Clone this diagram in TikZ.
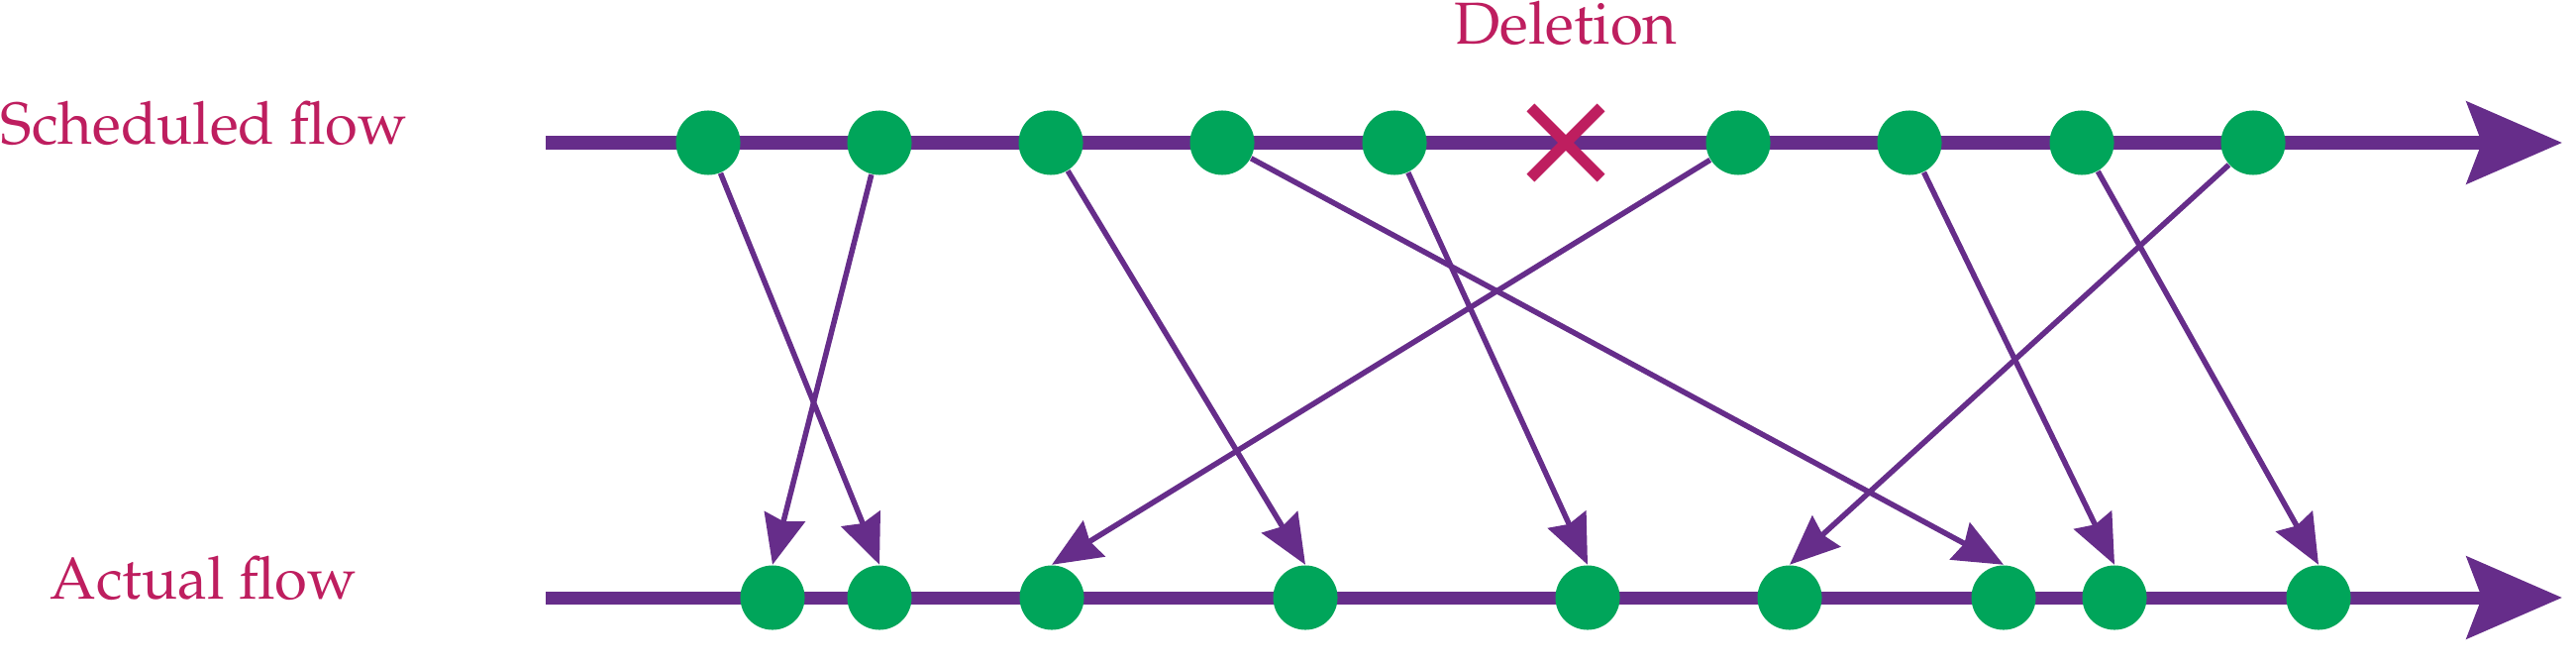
\documentclass[tikz,border=0pt]{standalone}
\usepackage[T1]{fontenc}
\usepackage{mathpazo}
\usetikzlibrary{arrows.meta, positioning, shapes.misc}
\definecolor{flowpurple}{RGB}{102,45,138}
\definecolor{dotgreen}{RGB}{0,165,90}
\definecolor{labelred}{RGB}{190,30,95}

\begin{document}
\begin{tikzpicture}[x=0.01cm, y=0.01cm,
  dot/.style={circle, fill=dotgreen, minimum size=0.65cm, inner sep=0pt},
  flowline/.style={draw=flowpurple, line width=0.13cm, -{Stealth[length=0.96cm,width=0.82cm,inset=0.15cm]}},
  move/.style={draw=flowpurple, line width=0.055cm, -{Stealth[length=0.5cm,width=0.42cm,inset=0.05cm]}},
  lab/.style={text=labelred, font=\fontsize{17}{20}\selectfont, inner sep=0pt}]
\useasboundingbox (0,0) rectangle (2601,672);
% the two flows
\coordinate (sstart) at (551,528);
\coordinate (send) at (2587,528);
\coordinate (astart) at (551,69);
\coordinate (aend) at (2587,69);
\draw[flowline] (sstart) -- (send);
\draw[flowline] (astart) -- (aend);
\node[lab, anchor=base west] (sched) at (0,527) {Scheduled flow};
\node[lab, anchor=base west] (actual) at (50,68) {Actual flow};
% scheduled trains
\foreach \i/\x in {1/715,2/888,3/1061,4/1234,5/1408,7/1755,8/1928,9/2102,10/2275}
  \node[dot] (s\i) at (\x,528) {};
\node[cross out, draw=labelred, line width=0.11cm, minimum size=0.6cm, inner sep=0pt] (s6) at (1581,528) {};
\node[lab, above=0.64cm of s6, anchor=base] (del) {Deletion};
% actual trains
\foreach \i/\x in {1/780,2/888,3/1062,4/1318,5/1603,6/1807,7/2023,8/2135,9/2341}
  \node[dot] (a\i) at (\x,69) {};
% reordering
\foreach \s/\a in {1/2,2/1,3/4,4/7,5/5,7/3,8/8,9/9,10/6}
  \draw[move] (s\s) -- (a\a.north);
\end{tikzpicture}
\end{document}
